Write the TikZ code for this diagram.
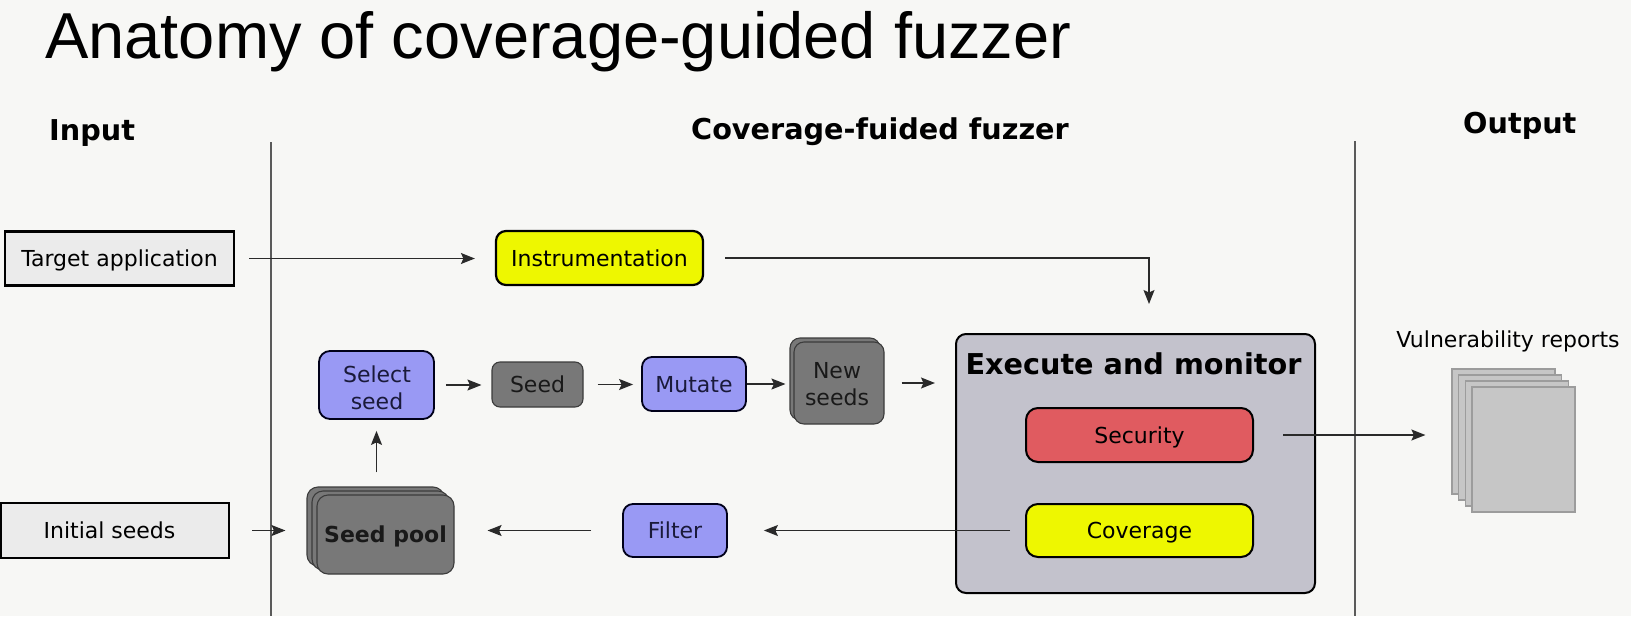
\documentclass[tikz,border=0pt]{standalone}
\usepackage{fontspec}
\setmainfont{DejaVu Sans}
\newfontfamily\titlefont{Liberation Sans}
\usetikzlibrary{arrows.meta,calc,shadows}
\definecolor{bgc}{HTML}{F7F7F5}
\definecolor{appfill}{HTML}{EBEBEB}
\definecolor{yel}{HTML}{EEF700}
\definecolor{blu}{HTML}{9999F4}
\definecolor{gry}{HTML}{787878}
\definecolor{gryb}{HTML}{3C3C3C}
\definecolor{execf}{HTML}{C3C2CC}
\definecolor{redf}{HTML}{E05B60}
\definecolor{docf}{HTML}{C6C6C6}
\definecolor{docb}{HTML}{9C9C9C}
\definecolor{linec}{HTML}{2A2A2A}
\definecolor{sepc}{HTML}{5A5A5A}
\definecolor{navytext}{HTML}{1A1A3A}
\tikzset{
  txt/.style={font=\fontsize{22}{26.7}\selectfont, text height=16pt, text depth=0pt},
  txttwo/.style={font=\fontsize{22}{26.7}\selectfont, align=center, inner sep=0pt},
  hdr/.style={font=\bfseries\fontsize{28.7}{30}\selectfont, inner sep=0pt},
  appbox/.style={txt, draw=black, line width=2.6pt, fill=appfill, inner sep=0pt},
  yelbox/.style={txt, draw=black, line width=2.2pt, fill=yel, rounded corners=10pt, inner sep=0pt},
  blubox/.style={txt, draw=black!90!blue, line width=1.8pt, fill=blu, rounded corners=11pt, inner sep=0pt, text=navytext},
  grybox/.style={txt, draw=gryb, line width=1.1pt, fill=gry, rounded corners=8pt, inner sep=0pt, text=black!90},
  arr/.style={draw=linec, line width=1.3pt, -{Stealth[length=14pt,width=11pt,inset=2.5pt]}},
  sep/.style={draw=sepc, line width=1.5pt},
  docsheet/.style={draw=docb, line width=1.2pt, fill=docf, inner sep=0pt, minimum width=103pt, minimum height=125pt}
}
\begin{document}
\begin{tikzpicture}[x=1pt,y=-1pt]
\useasboundingbox (0,0) rectangle (1631,616);
\fill[bgc] (0,0) rectangle (1631,616);

% title and headers
\node[anchor=base west, inner sep=0pt, font=\titlefont\fontsize{65}{70}\selectfont] (title) at (45,58) {Anatomy of coverage-guided fuzzer};
\node[hdr, anchor=base west] (hin) at (49,140) {Input};
\node[hdr, anchor=base west] (hcov) at (691,139) {Coverage-fuided fuzzer};
\node[hdr, anchor=base west] (hout) at (1463,133) {Output};

% separators
\coordinate (s1t) at (271,142); \coordinate (s1b) at (271,616);
\coordinate (s2t) at (1355,141); \coordinate (s2b) at (1355,616);
\draw[sep] (s1t) -- (s1b);
\draw[sep] (s2t) -- (s2b);

% input boxes
\node[appbox, minimum width=229pt, minimum height=54pt] (target) at (119.5,258.5) {Target application};
\node[appbox, minimum width=228pt, minimum height=55pt] (init) at (115,530.5) {};
\node[txt, inner sep=0pt] (initlbl) at (109.5,530.5) {Initial seeds};

% fuzzer nodes
\node[yelbox, minimum width=207pt, minimum height=54pt] (instr) at (599.5,258) {Instrumentation};
\node[blubox, minimum width=115pt, minimum height=68pt] (select) at (376.5,385) {};
\node[txttwo, text=navytext] (selectlbl) at (377,387.5) {Select\\seed};
\node[grybox, minimum width=91pt, minimum height=45pt] (seed) at (537.5,384.5) {Seed};
\node[blubox, minimum width=104pt, minimum height=54pt, rounded corners=10pt] (mutate) at (694,384) {Mutate};
\node[grybox, minimum width=90pt, minimum height=82pt, rounded corners=10pt,
      copy shadow={shadow xshift=-4pt, shadow yshift=4pt, fill=gry, draw=gryb, line width=1.1pt}] (newseeds) at (839,383) {};
\node[txttwo, text=black!90] (newseedslbl) at (837,384) {New\\seeds};
\node[grybox, minimum width=137pt, minimum height=79pt, rounded corners=11pt, font=\bfseries\fontsize{22}{26.7}\selectfont,
      double copy shadow={shadow xshift=-5pt, shadow yshift=4pt, fill=gry, draw=gryb, line width=1.1pt}] (pool) at (385.5,534.5) {Seed pool};
\node[blubox, minimum width=104pt, minimum height=53pt, rounded corners=10pt] (filter) at (675,530.5) {Filter};

% execute and monitor
\node[draw=black, line width=2pt, fill=execf, rounded corners=10pt, minimum width=359pt, minimum height=259pt, inner sep=0pt] (exec) at (1135.5,463.5) {};
\node[anchor=base, inner sep=0pt, font=\bfseries\fontsize{28.7}{30}\selectfont] (exectitle) at (1133.5,374) {Execute and monitor};
\node[txt, draw=black, line width=2pt, fill=redf, rounded corners=12pt, minimum width=227pt, minimum height=54pt, inner sep=0pt] (sec) at (1139.5,435) {Security};
\node[yelbox, line width=2pt, rounded corners=12pt, minimum width=227pt, minimum height=53pt] (cov) at (1139.5,530.5) {Coverage};

% output
\node[anchor=base, inner sep=0pt, font=\fontsize{22}{26.7}\selectfont] (vr) at (1508,347) {Vulnerability reports};
\node[docsheet] (doc3) at (1503.5,431.5) {};
\node[docsheet] (doc2) at (1510,437.5) {};
\node[docsheet] (doc1) at (1517,443.5) {};
\node[docsheet] (docs) at (1523.5,449.5) {};

% connectors
\draw[arr, shorten <=14pt, shorten >=20pt] (target.east) -- (target.east -| instr.west);
\draw[arr, shorten <=21pt, shorten >=29pt] (instr.east) -| ([xshift=13.5pt]exec.north);
\draw[arr, shorten <=11pt, shorten >=10pt] (select.east) -- (select.east -| seed.west);
\draw[arr, shorten <=14pt, shorten >=8pt] (seed.east) -- (seed.east -| mutate.west);
\draw[arr, shorten >=8pt] (mutate.east) -- (mutate.east -| newseeds.west);
\draw[arr, shorten <=17pt, shorten >=20pt] (newseeds.east) -- (newseeds.east -| exec.west);
\draw[arr, shorten <=22pt, shorten >=11pt] (select.south |- pool.north) -- (select.south);
\draw[arr, shorten <=22pt, shorten >=31pt] (init.east) -- (init.east -| pool.west);
\draw[arr, shorten <=15pt, shorten >=36pt] (cov.west) -- (cov.west -| filter.east);
\draw[arr, shorten <=31pt, shorten >=33pt] (filter.west) -- (filter.west -| pool.east);
\draw[arr, shorten <=29pt, shorten >=46pt] (sec.east) -- (sec.east -| docs.west);
\end{tikzpicture}
\end{document}
